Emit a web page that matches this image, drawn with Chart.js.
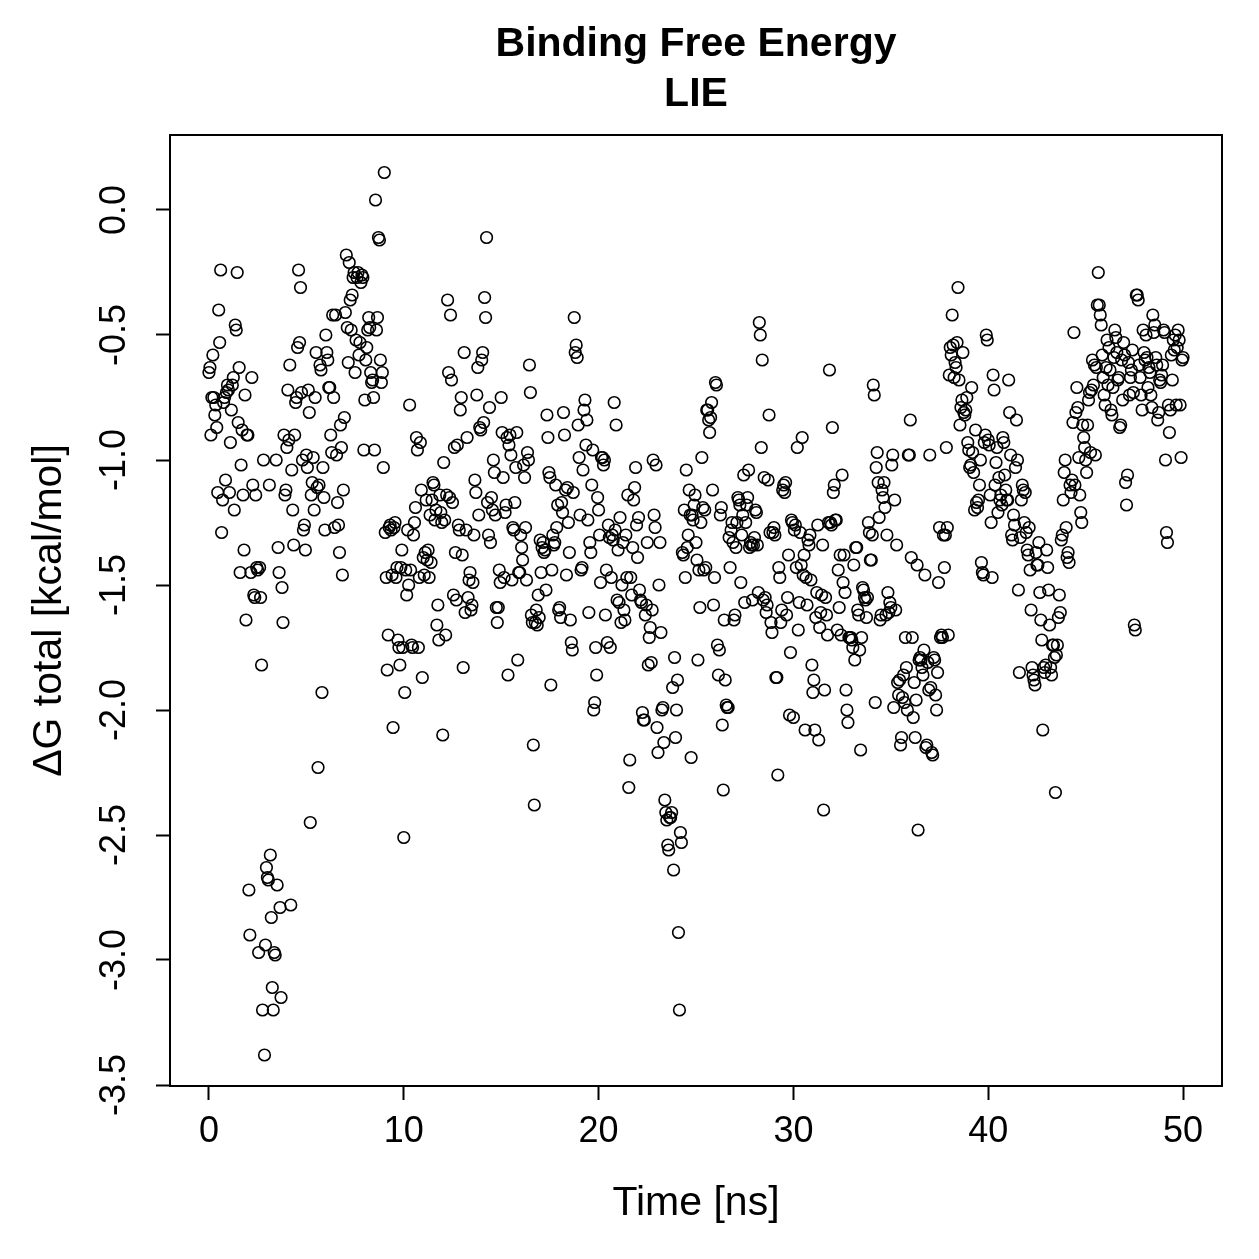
<!DOCTYPE html>
<html>
<head>
<meta charset="utf-8">
<script src="https://cdn.jsdelivr.net/npm/chart.js@4/dist/chart.umd.min.js"></script>
<style>
  html, body { margin: 0; padding: 0; background: #fff; }
  #wrap { width: 1259px; height: 1259px; }
</style>
</head>
<body>
<div id="wrap"><canvas id="c" width="1259" height="1259"></canvas></div>
<script>
// ---- data (ΔG total, kcal/mol), one value per frame, 0.05 ns apart ----
const frameStep_ns = 0.05;
const dG_00_10 = [
 -0.65,-0.63,-0.9,-0.75,-0.58,-0.75,-0.82,-0.78,-0.87,-1.13,-0.4,-0.53,-0.24,-1.29,-1.16,-0.77,-0.75,-1.08,-0.73,-0.7,
 -0.72,-1.13,-0.93,-0.8,-0.7,-0.67,-1.2,-0.46,-0.48,-0.25,-0.85,-0.63,-1.45,-1.02,-0.88,-1.14,-1.36,-0.74,-1.64,-0.9,
 -0.9,-2.72,-2.9,-1.45,-0.67,-1.1,-1.54,-1.55,-1.14,-1.43,-1.44,-2.97,-1.43,-1.55,-1.82,-3.2,-1.0,-3.38,-2.94,-2.63,
 -2.67,-2.68,-1.1,-2.58,-2.83,-3.11,-3.2,-2.97,-2.98,-1.0,-2.7,-1.35,-1.45,-2.79,-3.15,-1.51,-1.65,-0.9,-1.14,-1.12,
 -0.95,-0.72,-0.92,-0.62,-2.78,-1.04,-1.2,-1.34,-0.9,-0.77,-0.75,-0.55,-0.24,-0.53,-0.31,-0.73,-1.0,-1.28,-1.26,-1.36,
 -0.98,-1.03,-0.72,-0.81,-2.45,-1.14,-1.09,-0.99,-1.2,-0.75,-0.57,-1.11,-2.23,-1.1,-0.62,-0.64,-1.93,-1.03,-1.15,-1.28,
 -0.5,-0.57,-0.6,-0.71,-0.71,-0.9,-0.97,-0.42,-0.75,-1.27,-0.42,-0.98,-1.17,-1.26,-1.37,-0.86,-0.95,-1.46,-1.12,-0.83,
 -0.41,-0.18,-0.47,-0.61,-0.21,-0.36,-0.48,-0.34,-0.27,-0.25,-0.65,-0.52,-0.27,-0.25,-0.58,-0.53,-0.29,-0.26,-0.27,-0.96,
 -0.76,-0.6,-0.55,-0.48,-0.43,-0.47,-0.65,-0.69,-0.68,-0.75,-0.96,0.04,-0.48,-0.43,-0.11,-0.12,-0.6,-0.69,-0.65,-1.03,
 0.15,-1.29,-1.47,-1.84,-1.7,-1.27,-1.26,-1.28,-1.46,-2.07,-1.27,-1.25,-1.47,-1.43,-1.72,-1.75,-1.82,-1.43,-1.36,-1.75
];
const dG_10_20 = [
 -2.51,-1.93,-1.44,-1.54,-1.28,-1.5,-0.78,-1.44,-1.74,-1.75,-1.3,-1.25,-1.19,-0.91,-0.96,-1.75,-1.47,-0.93,-1.12,-1.87,
 -1.39,-1.46,-1.37,-1.16,-1.4,-1.36,-1.47,-1.22,-1.41,-1.16,-1.09,-1.1,-1.24,-1.2,-1.66,-1.58,-1.72,-1.14,-1.21,-1.25,
 -2.1,-1.01,-1.24,-1.7,-1.14,-0.36,-0.65,-1.15,-0.42,-0.68,-1.17,-1.54,-0.95,-1.37,-1.56,-0.94,-1.26,-1.28,-0.8,-0.75,
 -1.38,-1.83,-0.57,-1.61,-1.28,-0.91,-1.55,-1.48,-1.45,-1.6,-1.58,-1.49,-1.3,-1.08,-1.13,-0.74,-0.63,-1.22,-0.87,-0.88,
 -0.6,-0.57,-0.85,-0.35,-0.43,-0.11,-1.17,-1.3,-0.79,-1.33,-1.15,-1.2,-1.0,-1.05,-1.22,-1.59,-1.65,-1.59,-1.44,-1.49,
 -0.75,-0.89,-1.07,-1.47,-1.21,-1.18,-0.91,-1.86,-0.94,-0.9,-0.98,-1.48,-1.27,-1.28,-1.17,-1.03,-0.89,-1.8,-1.45,-1.45,
 -1.3,-1.35,-1.4,-1.02,-1.07,-1.27,-1.48,-0.97,-1.0,-0.62,-0.73,-1.62,-1.65,-2.14,-2.38,-1.65,-1.6,-1.66,-1.54,-1.63,
 -1.32,-1.45,-1.35,-1.33,-1.37,-1.36,-1.52,-0.82,-0.91,-1.05,-1.07,-1.9,-1.44,-1.3,-1.34,-1.33,-1.1,-1.27,-1.18,-1.6,
 -1.59,-1.63,-1.17,-1.21,-0.81,-0.9,-1.12,-1.46,-1.11,-1.25,-1.37,-1.64,-1.73,-1.76,-1.13,-0.43,-0.57,-0.54,-0.59,-0.86,
 -0.99,-1.22,-1.44,-1.43,-1.04,-0.8,-0.76,-0.94,-0.84,-1.24,-1.61,-1.33,-1.37,-1.1,-0.96,-2.0,-1.97,-1.75,-1.86,-1.15
];
const dG_20_30 = [
 -1.2,-1.3,-1.49,-0.99,-0.99,-1.02,-1.0,-1.62,-1.44,-1.73,-1.26,-1.31,-1.75,-1.47,-1.3,-1.32,-0.77,-1.28,-0.86,-1.56,
 -1.36,-1.57,-1.23,-1.65,-1.5,-1.33,-1.6,-1.64,-1.3,-1.47,-1.14,-2.31,-2.2,-1.47,-1.54,-1.35,-1.16,-1.11,-1.03,-1.26,
 -1.39,-1.23,-1.52,-1.56,-1.57,-2.01,-2.04,-2.04,-1.62,-1.58,-1.33,-1.82,-1.71,-1.67,-1.81,-1.6,-1.0,-1.22,-1.27,-1.02,
 -2.07,-2.17,-1.5,-1.33,-1.69,-2.0,-1.99,-2.13,-2.36,-2.41,-2.44,-2.54,-2.56,-2.43,-2.43,-2.41,-1.91,-2.64,-1.79,-2.11,
 -2.0,-1.88,-2.89,-3.2,-2.49,-2.53,-1.37,-1.38,-1.2,-1.47,-1.04,-1.35,-1.3,-1.12,-1.22,-2.19,-1.22,-1.24,-1.18,-1.14,
 -1.33,-1.4,-1.8,-1.44,-1.59,-1.25,-0.99,-1.19,-1.44,-1.2,-1.43,-0.8,-0.8,-0.84,-0.89,-0.83,-0.77,-1.12,-1.58,-1.47,
 -0.69,-0.7,-1.74,-1.86,-1.76,-1.22,-1.19,-2.06,-2.32,-1.64,-1.88,-1.98,-1.99,-1.99,-1.31,-1.43,-1.28,-1.25,-1.33,-1.64,
 -1.62,-1.35,-1.25,-1.15,-1.16,-1.18,-1.49,-1.3,-1.22,-1.06,-1.57,-1.25,-1.18,-1.15,-1.04,-1.35,-1.33,-1.34,-1.56,-1.34,
 -1.31,-1.2,-1.21,-1.34,-1.53,-0.45,-0.5,-0.95,-0.6,-1.56,-1.07,-1.55,-1.61,-1.58,-1.08,-0.82,-1.29,-1.65,-1.69,-1.29,
 -1.27,-1.3,-1.87,-1.87,-2.26,-1.43,-1.47,-1.65,-1.6,-1.12,-1.1,-1.13,-1.09,-1.62,-1.55,-1.38,-2.02,-1.77,-1.24,-1.25
];
const dG_30_40 = [
 -2.03,-1.28,-1.26,-1.43,-0.95,-1.68,-1.57,-1.29,-1.42,-0.91,-1.46,-1.38,-2.08,-1.47,-1.58,-1.32,-1.34,-1.3,-1.48,-1.82,
 -1.93,-1.88,-2.08,-1.63,-1.53,-1.26,-2.12,-1.67,-1.61,-1.54,-1.34,-2.4,-1.92,-1.55,-1.62,-1.7,-1.25,-0.64,-1.25,-1.26,
 -0.87,-1.13,-1.1,-1.24,-1.24,-1.68,-1.44,-1.59,-1.38,-1.7,-1.06,-1.49,-1.38,-1.53,-1.92,-2.0,-2.05,-1.71,-1.71,-1.71,
 -1.72,-1.75,-1.42,-1.8,-1.35,-1.35,-1.6,-1.62,-1.76,-2.16,-1.71,-1.51,-1.52,-1.55,-1.56,-1.63,-1.55,-1.25,-1.29,-1.4,
 -1.4,-1.3,-0.7,-0.74,-1.97,-1.03,-0.97,-1.09,-1.23,-1.64,-1.62,-1.12,-1.15,-1.09,-1.19,-1.62,-1.3,-1.53,-1.61,-1.57,
 -1.59,-1.02,-0.98,-1.99,-1.16,-1.6,-1.34,-1.89,-1.94,-1.88,-2.14,-2.11,-1.95,-1.86,-1.97,-1.71,-1.83,-2.0,-0.98,-0.98,
 -0.84,-1.39,-1.71,-2.03,-1.89,-2.11,-1.96,-1.42,-2.48,-1.8,-1.79,-1.8,-1.83,-1.86,-1.76,-1.46,-2.15,-2.14,-1.81,-1.92,
 -0.98,-1.91,-2.17,-2.18,-1.79,-1.8,-1.94,-2.0,-1.85,-1.49,-1.27,-1.71,-1.7,-1.71,-1.3,-1.43,-1.3,-0.95,-1.27,-1.7,
 -0.66,-0.55,-0.58,-0.42,-0.54,-0.67,-0.61,-0.63,-0.53,-0.31,-0.68,-0.86,-0.79,-0.76,-0.57,-0.81,-0.82,-0.8,-0.75,-0.93,
 -0.96,-1.03,-1.02,-0.71,-0.97,-1.05,-1.2,-0.88,-1.17,-1.19,-1.16,-1.1,-1.0,-1.41,-1.45,-1.46,-0.93,-0.9,-0.5,-0.52
];
const dG_40_50 = [
 -0.92,-0.94,-1.14,-1.25,-1.47,-0.66,-0.72,-1.1,-1.01,-0.95,-1.21,-1.07,-1.16,-1.14,-1.18,-0.91,-0.93,-1.06,-1.12,-1.16,
 -1.16,-0.68,-0.81,-0.98,-1.3,-1.32,-1.22,-1.26,-1.03,-0.84,-1.0,-1.52,-1.85,-1.31,-1.16,-1.1,-1.12,-1.25,-1.13,-1.29,
 -1.36,-1.38,-1.27,-1.44,-1.6,-1.83,-1.86,-1.88,-1.9,-1.37,-1.42,-1.42,-1.33,-1.53,-1.64,-1.72,-2.08,-1.83,-1.85,-1.82,
 -1.36,-1.43,-1.52,-1.66,-1.83,-1.86,-1.74,-1.74,-1.79,-2.33,-1.78,-1.74,-1.63,-1.54,-1.61,-1.32,-1.3,-1.16,-1.05,-1.0,
 -1.27,-1.39,-1.37,-1.41,-1.1,-1.13,-1.08,-0.85,-0.49,-1.1,-0.81,-0.71,-0.79,-0.99,-1.14,-1.21,-1.25,-0.86,-0.91,-0.95,
 -1.0,-1.05,-0.86,-0.76,-0.73,-0.97,-0.72,-0.6,-0.7,-0.62,-0.98,-0.63,-0.38,-0.25,-0.38,-0.42,-0.46,-0.58,-0.67,-0.74,
 -0.78,-0.63,-0.52,-0.7,-0.55,-0.64,-0.8,-0.82,-0.71,-0.59,-0.48,-0.51,-0.57,-0.68,-0.67,-0.87,-0.86,-0.6,-0.76,-0.53,
 -0.58,-1.09,-1.18,-1.06,-0.61,-0.74,-0.67,-0.64,-0.56,-0.73,-1.66,-1.68,-0.34,-0.34,-0.36,-0.62,-0.67,-0.74,-0.8,-0.48,
 -0.57,-0.6,-0.5,-0.59,-0.71,-0.63,-0.65,-0.74,-0.79,-0.42,-0.49,-0.46,-0.59,-0.62,-0.84,-0.81,-0.68,-0.69,-0.66,-0.62,
 -0.48,-0.49,-1.0,-1.29,-1.33,-0.78,-0.89,-0.8,-0.58,-0.68,-0.52,-0.56,-0.5,-0.78,-0.55,-0.48,-0.52,-0.78,-0.99,-0.6,-0.59
];
const xTicks = [0, 10, 20, 30, 40, 50];
const yTicks = [-3.5, -3.0, -2.5, -2.0, -1.5, -1.0, -0.5, 0.0];
const titleLines = ['Binding Free Energy', 'LIE'];
const xLabel = 'Time [ns]';
const yLabel = '\u0394G total [kcal/mol]';

const dG = [].concat(dG_00_10, dG_10_20, dG_20_30, dG_30_40, dG_40_50);
const points = dG.map((v, i) => ({ x: +(i * frameStep_ns).toFixed(2), y: v }));

const FONT = "'Liberation Sans', Arial, Helvetica, sans-serif";

// frame box + main title centred over the plot region (as R does)
const boxPlugin = {
  id: 'boxPlugin',
  afterDraw(chart) {
    const { ctx, chartArea: a } = chart;
    ctx.save();
    ctx.strokeStyle = '#000';
    ctx.lineWidth = 2;
    ctx.strokeRect(a.left, a.top, a.right - a.left, a.bottom - a.top);
    ctx.fillStyle = '#000';
    ctx.font = 'bold 41px ' + FONT;
    ctx.textAlign = 'center';
    ctx.textBaseline = 'middle';
    const cx = (a.left + a.right) / 2;
    ctx.fillText(titleLines[0], cx, 45);
    ctx.fillText(titleLines[1], cx, 95);
    ctx.restore();
  }
};

new Chart(document.getElementById('c'), {
  type: 'scatter',
  data: {
    datasets: [{
      data: points,
      showLine: false,
      pointStyle: 'circle',
      pointRadius: 5.8,
      pointBorderWidth: 1.6,
      pointBackgroundColor: 'rgba(0,0,0,0)',
      pointBorderColor: '#000',
      clip: false
    }]
  },
  options: {
    responsive: false,
    animation: false,
    devicePixelRatio: 1,
    layout: { padding: { left: 0, right: 37, top: 135, bottom: 0 } },
    plugins: {
      legend: { display: false },
      tooltip: { enabled: false },
      title: { display: false }
    },
    scales: {
      x: {
        type: 'linear',
        position: 'bottom',
        min: -2,
        max: 52,
        afterBuildTicks(scale) { scale.ticks = xTicks.map(v => ({ value: v })); },
        afterFit(scale) { scale.height = 173; },
        grid: { display: true, drawOnChartArea: false, drawTicks: true, tickLength: 14, tickWidth: 2, tickColor: '#000' },
        border: { display: false },
        ticks: {
          color: '#000',
          font: { family: FONT, size: 36 },
          padding: 10,
          maxRotation: 0,
          autoSkip: false,
          callback: v => String(v)
        },
        title: {
          display: true,
          text: xLabel,
          color: '#000',
          font: { family: FONT, size: 41 },
          padding: { top: 0, bottom: 31 }
        }
      },
      y: {
        type: 'linear',
        position: 'left',
        min: -3.504,
        max: 0.3,
        afterBuildTicks(scale) { scale.ticks = yTicks.map(v => ({ value: v })); },
        afterFit(scale) { scale.width = 170; },
        grid: { display: true, drawOnChartArea: false, drawTicks: true, tickLength: 14, tickWidth: 2, tickColor: '#000' },
        border: { display: false },
        ticks: {
          color: '#000',
          font: { family: FONT, size: 36 },
          padding: 10,
          minRotation: 90,
          maxRotation: 90,
          crossAlign: 'center',
          autoSkip: false,
          callback: v => v.toFixed(1)
        },
        title: {
          display: true,
          text: yLabel,
          color: '#000',
          font: { family: FONT, size: 41 },
          padding: { top: 25, bottom: 0 }
        }
      }
    }
  },
  plugins: [boxPlugin]
});
</script>
</body>
</html>
